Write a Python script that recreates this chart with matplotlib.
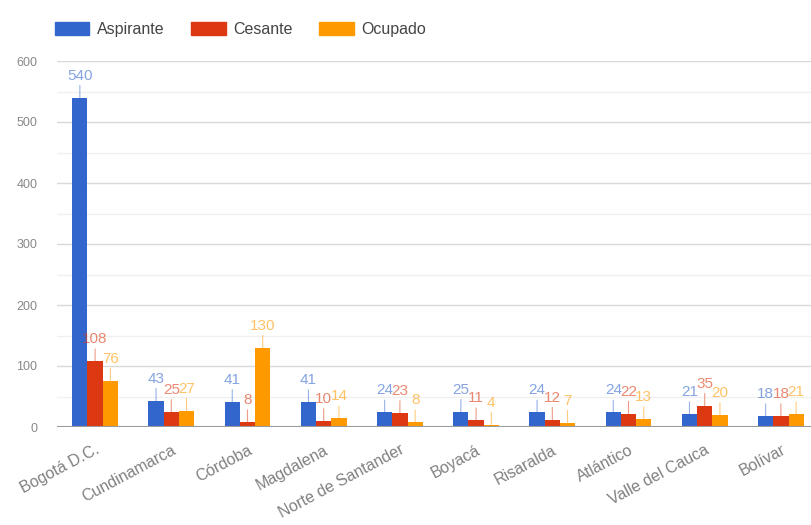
import matplotlib.pyplot as plt
from matplotlib.patches import Patch
import numpy as np

# Dados
departamentos = ['Bogotá D.C.', 'Cundinamarca', 'Córdoba', 'Magdalena', 'Norte de Santander',
                 'Boyacá', 'Risaralda', 'Atlántico', 'Valle del Cauca', 'Bolívar']
aspirante = [540, 43, 41, 41, 24, 25, 24, 24, 21, 18]
cesante = [108, 25, 8, 10, 23, 11, 12, 22, 35, 18]
ocupado = [76, 27, 130, 14, 8, 4, 7, 13, 20, 21]

series = [('Aspirante', aspirante, '#3366cc'),
          ('Cesante', cesante, '#dc3912'),
          ('Ocupado', ocupado, '#ff9900')]

plt.rcParams['font.family'] = ['Liberation Sans', 'DejaVu Sans']

W, H = 811, 525
fig = plt.figure(figsize=(W / 100, H / 100), dpi=100)
# area do grafico (em pixels): x 57..819, y 61..427
ax = fig.add_axes([57 / W, (H - 427) / H, 762 / W, 366 / H])

x = np.arange(len(departamentos))
largura = 0.2

for i, (nome, valores, cor) in enumerate(series):
    pos = x + (i - 1) * largura
    ax.bar(pos, valores, width=largura, color=cor, zorder=3)
    for xp, v in zip(pos, valores):
        ax.annotate(str(v), xy=(xp, v), xytext=(0, 15), textcoords='offset pixels',
                    ha='center', va='bottom', fontsize=11, color=cor, alpha=0.6,
                    arrowprops=dict(arrowstyle='-', color=cor, lw=0.8, alpha=0.5,
                                    shrinkA=0, shrinkB=0), zorder=4)

ax.set_xlim(-0.5, len(departamentos) - 0.5)
ax.set_ylim(0, 600)
ax.set_yticks(range(0, 601, 100))
ax.set_yticks(range(50, 600, 100), minor=True)
ax.grid(axis='y', which='major', color='#d9d9d9', lw=1, zorder=0)
ax.grid(axis='y', which='minor', color='#f0f0f0', lw=1, zorder=0)
ax.axhline(0, color='#9a9a9a', lw=1.5, zorder=5)

ax.set_xticks(x)
ax.set_xticklabels(departamentos, rotation=28, ha='right', rotation_mode='anchor',
                   fontsize=11.5, color='#808080')
ax.tick_params(axis='x', length=0, pad=11)
ax.tick_params(axis='y', which='both', length=0, pad=14, labelsize=9, labelcolor='#888888')

for s in ax.spines.values():
    s.set_visible(False)

handles = [Patch(color=cor, label=nome) for nome, _, cor in series]
fig.legend(handles=handles, loc='upper left', bbox_to_anchor=(47 / W, 1 - 14 / H),
           ncol=3, frameon=False, fontsize=11.5, handlelength=2.15, handleheight=0.9,
           handletextpad=0.45, columnspacing=1.7, borderpad=0, labelcolor='#444444')

plt.savefig('out.png', dpi=100)
plt.close()
